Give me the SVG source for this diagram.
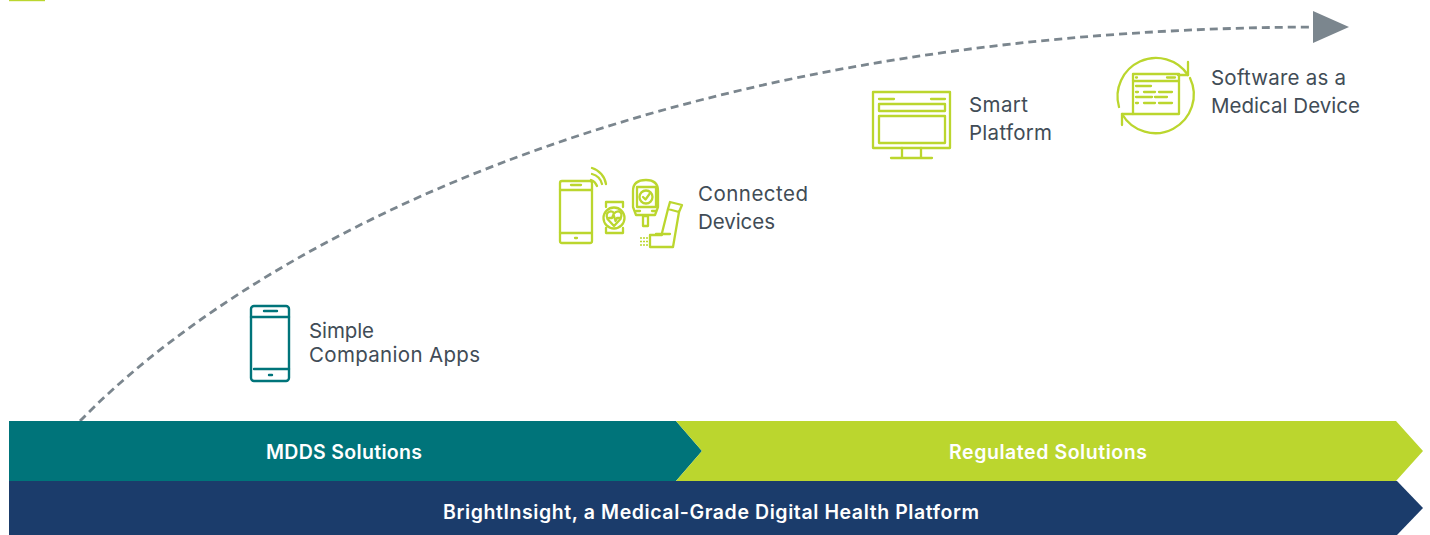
<svg xmlns="http://www.w3.org/2000/svg" width="1430" height="535" viewBox="0 0 1430 535">
<style>
.l{font-family:"Inter","Liberation Sans",sans-serif;font-size:20.5px;fill:#414c56}
.b{font-family:"Inter","Liberation Sans",sans-serif;font-size:19.5px;font-weight:600;fill:#fff;text-anchor:middle}
.g{fill:none;stroke:#bbd62e;stroke-width:2.3;stroke-linejoin:round;stroke-linecap:round}
.t{fill:none;stroke:#00747a;stroke-width:2.4;stroke-linejoin:round;stroke-linecap:round}
</style>
<rect x="9" y="0" width="36" height="1.2" fill="#bbd62e"/>
<g id="connectors">
<path d="M80 421C235 262 620 30 1314 27" fill="none" stroke="#7b868e" stroke-width="2.8" stroke-dasharray="8 5"/>
<polygon points="1313,11 1349,27 1313,43" fill="#7b868e"/>
</g>
<g id="bar-platform"><polygon points="9,481 1397,481 1423,508 1397,535 9,535" fill="#1b3c6b"/><text class="b" x="711" y="519" textLength="536">BrightInsight, a Medical-Grade Digital Health Platform</text></g>
<g id="bar-mdds"><polygon points="9,421 676,421 702,451 676,481 9,481" fill="#00747a"/><text class="b" x="344" y="459" textLength="156">MDDS Solutions</text></g>
<g id="bar-regulated"><polygon points="676,421 1396,421 1423,451 1396,481 676,481 702,451" fill="#bbd62e"/><text class="b" x="1048" y="459" textLength="198">Regulated Solutions</text></g>
<g id="node-apps">
<rect class="t" x="251" y="306" width="38" height="75" rx="3"/>
<path class="t" d="M251 317H289M254 369H289M264 311H277M269 375H272"/>
<text class="l" x="309" y="338" textLength="65">Simple</text>
<text class="l" x="309" y="362" textLength="171">Companion Apps</text>
</g>
<g id="node-devices">
<rect class="g" x="560" y="181" width="32" height="62" rx="2"/>
<path class="g" d="M560 190H592M560 233H592M571 185H581M575 238H577"/>
<path class="g" d="M591 180A10 10 0 0 1 597 186M592 174A14 14 0 0 1 602 184M592 168A20 20 0 0 1 606 184"/>
<path class="g" d="M606 207V202H623V207M606 228V233H623V228"/>
<circle class="g" cx="614" cy="218" r="10.500"/>
<path class="g" d="M614 226L607.500 219Q605 213 610 211.500Q613 211 614 213.500Q616 211 619 211.500Q623 213 620.500 219Z" stroke-width="1.400"/>
<path class="g" d="M609 218H612L613.500 214.500L615.500 221L617 218H620" stroke-width="1.200"/>
<path class="g" d="M633 191Q633 180 646 180Q658 180 658 191V207L655 215H636L633 207Z"/>
<rect class="g" x="637" y="187" width="19" height="20"/>
<circle class="g" cx="646" cy="197" r="6.500"/>
<path class="g" d="M643 197L645.500 199.500L649.500 194M636 211H640M652 211H656M643 216H648V226H643Z"/>
<path class="g" d="M670 202L682 205L679 212L668 209Z"/>
<path class="g" d="M668 209L662 233M679 212L673 247H650V235H662M656 234H670"/>
<path d="M640 238h2m1 0h2m1 0h2M640 241.500h2m1 0h2m1 0h2M640 245h2m1 0h2m1 0h2" fill="none" stroke="#bbd62e" stroke-width="1.600"/>
<text class="l" x="698" y="201" textLength="110">Connected</text>
<text class="l" x="698" y="229" textLength="77">Devices</text>
</g>
<g id="node-platform">
<rect class="g" x="873" y="92" width="77" height="56"/>
<path class="g" d="M879 99H894M931 99H945"/>
<rect class="g" x="879" y="104" width="66" height="7"/>
<rect class="g" x="879" y="116" width="66" height="27"/>
<path class="g" d="M902 148V158M921 148V158M891 158H932"/>
<text class="l" x="969" y="112" textLength="59">Smart</text>
<text class="l" x="969" y="140" textLength="83">Platform</text>
</g>
<g id="node-samd">
<path class="g" d="M1188 75A38.500 38.500 0 0 0 1119 107M1122 114A38.500 38.500 0 0 0 1190 78"/>
<path class="g" d="M1188 62V75H1178M1122 125V114H1133"/>
<rect class="g" x="1133" y="74" width="46" height="40"/>
<path class="g" d="M1133 81H1179M1136 77.500H1137M1167 77.500H1175M1136 86H1151M1136 92H1138M1144 92H1155M1159 92H1172M1136 97H1152M1155 97H1167M1136 103H1138M1144 103H1155M1159 103H1172" stroke-width="1.800"/>
<text class="l" x="1211" y="85" textLength="135">Software as a</text>
<text class="l" x="1211" y="113" textLength="149">Medical Device</text>
</g>
</svg>
